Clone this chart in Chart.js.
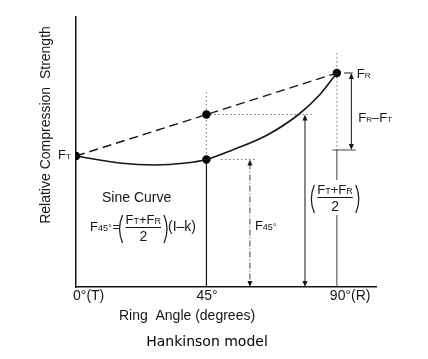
<!DOCTYPE html>
<html lang="en">
<head>
  <meta charset="UTF-8">
  <title>Hankinson model</title>
  <script src="https://cdn.jsdelivr.net/npm/chart.js@4.4.1/dist/chart.umd.min.js"></script>
  <style>
    html, body { margin: 0; padding: 0; background: #fff; }
    canvas { display: block; }
  </style>
</head>
<body>
  <canvas id="chart_hankinson" width="428" height="359"></canvas>
  <script>
    // ring angle (deg) / relative strength
    var curveAngles = [0, 15, 27, 38, 45, 54, 66, 77, 84, 90];
    var curveValues = [131, 124, 122, 124, 127.5, 137, 152, 173, 192, 214];
    var FT = 131, FR = 214, F45 = 127.5, MID = 172.5;
    var markerAngles = [0, 45, 45, 90];
    var markerValues = [FT, MID, F45, FR];
    var tickAngles = [0, 45, 90];
    var tickLabels = ['0°(T)', '45°', '90°(R)'];
    var arrowAngles = [60, 79, 95];   // F45 / (FT+FR)/2 / FR-FT
    var diffLow = 137;

    var INK = '#161616';
    var FONT = '"Liberation Sans", Arial, sans-serif';

    function pts(xs, ys) { return xs.map(function (a, i) { return { x: a, y: ys[i] }; }); }

    function arrowHead(ctx, x, y, dir) {
      ctx.beginPath();
      ctx.moveTo(x, y);
      ctx.lineTo(x - 2.5, y - dir * 6);
      ctx.lineTo(x + 2.5, y - dir * 6);
      ctx.closePath();
      ctx.fill();
    }
    function seg(ctx, x1, y1, x2, y2, dash, color, w) {
      ctx.save();
      ctx.setLineDash(dash || []);
      ctx.strokeStyle = color || INK;
      ctx.lineWidth = w || 1;
      ctx.beginPath(); ctx.moveTo(x1, y1); ctx.lineTo(x2, y2); ctx.stroke();
      ctx.restore();
    }
    // text with subscript pieces: [[text, size, dy]]
    function rich(ctx, x, y, parts) {
      parts.forEach(function (p) {
        ctx.font = p[1] + 'px ' + FONT;
        ctx.fillText(p[0], x, y + (p[2] || 0));
        x += ctx.measureText(p[0]).width;
      });
      return x;
    }
    function paren(ctx, x, y1, y2, side) {
      ctx.save();
      ctx.lineWidth = 1.2;
      ctx.strokeStyle = INK;
      ctx.beginPath();
      ctx.moveTo(x, y1);
      ctx.quadraticCurveTo(x - side * 6, (y1 + y2) / 2, x, y2);
      ctx.stroke();
      ctx.restore();
    }
    // ( FT+FR / 2 ) block, left edge x, fraction bar at cy
    function fraction(ctx, x, cy) {
      paren(ctx, x + 5, cy - 12, cy + 16, 1);
      var sx = x + 8;
      ctx.textBaseline = 'alphabetic';
      var ex = rich(ctx, sx, cy - 3, [['F', 13], ['T', 9], ['+F', 13], ['R', 9]]);
      seg(ctx, sx, cy + 0.5, ex, cy + 0.5, [], INK, 1.2);
      ctx.font = '14px ' + FONT;
      ctx.textAlign = 'center';
      ctx.fillText('2', (sx + ex) / 2, cy + 14);
      ctx.textAlign = 'left';
      paren(ctx, ex + 3, cy - 12, cy + 16, -1);
      return ex + 7;
    }

    var guides = {
      id: 'guides',
      beforeDatasetsDraw: function (chart) {
        var ctx = chart.ctx, sx = chart.scales.x, sy = chart.scales.y;
        var X = function (v) { return sx.getPixelForValue(v); };
        var Y = function (v) { return sy.getPixelForValue(v); };
        var dot = [1.5, 2.5], grey = '#777';
        // 45 deg
        seg(ctx, X(45), Y(195), X(45), Y(F45), dot, grey, 1);
        seg(ctx, X(45), Y(F45), X(45), Y(0), [], INK, 1.2);
        // 90 deg
        seg(ctx, X(90), Y(234), X(90), Y(diffLow), dot, grey, 1);
        seg(ctx, X(90), Y(diffLow), X(90), Y(107), [], '#444', 1);
        seg(ctx, X(90), Y(72), X(90), Y(0), [], '#444', 1);
        // horizontals
        seg(ctx, X(45), Y(MID), X(81.5), Y(MID), dot, grey, 1);
        seg(ctx, X(50), Y(F45), X(62), Y(F45), dot, grey, 1);
        seg(ctx, X(92.5), Y(FR), X(95.5), Y(FR), [], INK, 1);
        seg(ctx, X(88.5), Y(diffLow), X(96.5), Y(diffLow), [], '#444', 1);
        // arrows
        ctx.fillStyle = INK;
        var a1 = X(arrowAngles[0]);
        seg(ctx, a1, Y(F45) + 4, a1, Y(0) - 4, [6, 2, 1, 2], '#444', 1);
        arrowHead(ctx, a1, Y(F45), -1); arrowHead(ctx, a1, Y(0), 1);
        var a2 = X(arrowAngles[1]);
        seg(ctx, a2, Y(MID) + 4, a2, Y(0) - 4, [], INK, 1);
        arrowHead(ctx, a2, Y(MID), -1); arrowHead(ctx, a2, Y(0), 1);
        var a3 = X(arrowAngles[2]);
        seg(ctx, a3, Y(FR) + 4, a3, Y(diffLow) - 4, [], INK, 1);
        arrowHead(ctx, a3, Y(FR), -1); arrowHead(ctx, a3, Y(diffLow), 1);
      },
      afterDraw: function (chart) {
        var ctx = chart.ctx, sx = chart.scales.x, sy = chart.scales.y;
        var X = function (v) { return sx.getPixelForValue(v); };
        var Y = function (v) { return sy.getPixelForValue(v); };
        ctx.save();
        ctx.fillStyle = INK;
        ctx.textBaseline = 'middle';
        ctx.textAlign = 'left';

        // tick labels
        ctx.font = '14px ' + FONT;
        var offs = [-3, -10, -7];
        tickAngles.forEach(function (a, i) {
          ctx.fillText(tickLabels[i], X(a) + offs[i], Y(0) + 9);
        });
        // axis titles
        ctx.textAlign = 'center';
        ctx.fillText('Ring  Angle (degrees)', 187, 316);
        ctx.save();
        ctx.translate(46, 125);
        ctx.rotate(-Math.PI / 2);
        ctx.fillText('Relative Compression  Strength', 0, 0);
        ctx.restore();
        ctx.font = '14px "DejaVu Sans", sans-serif';
        ctx.fillStyle = '#000';
        ctx.fillText('Hankinson model', 207, 342);
        ctx.fillStyle = INK;
        ctx.textAlign = 'left';

        // point labels
        ctx.textBaseline = 'alphabetic';
        rich(ctx, X(0) - 18, Y(FT) + 3, [['F', 13], ['T', 8]]);
        rich(ctx, X(90) + 20, Y(FR) + 5, [['F', 13], ['R', 8]]);
        rich(ctx, X(95) + 7, Y(170) + 5, [['F', 13], ['R', 8], ['\u2013F', 13], ['T', 8]]);

        // (FT+FR)/2 on the right
        fraction(ctx, X(80.5), Y(90));

        // left block
        ctx.font = '14px ' + FONT;
        ctx.fillText('Sine Curve', 102, 202);
        var ex = rich(ctx, 90, 231, [['F', 13], ['45°', 9]]);
        ctx.font = '13px ' + FONT;
        ctx.fillText('=', ex + 1, 231);
        ex = fraction(ctx, ex + 6, 227);
        ctx.font = '14px ' + FONT;
        ctx.fillText('(I\u2013k)', ex, 231);

        // F45 label
        rich(ctx, X(arrowAngles[0]) + 5, 230, [['F', 13], ['45°', 9]]);
        ctx.restore();
      }
    };

    var ctx = document.getElementById('chart_hankinson').getContext('2d');
    var chart = new Chart(ctx, {
      type: 'scatter',
      data: {
        datasets: [
          {
            label: 'sine curve',
            data: pts(curveAngles, curveValues),
            showLine: true,
            borderColor: INK,
            borderWidth: 1.6,
            pointRadius: 0,
            cubicInterpolationMode: 'monotone'
          },
          {
            label: 'linear',
            data: pts([0, 90], [FT, FR]),
            showLine: true,
            borderColor: INK,
            borderWidth: 1.4,
            borderDash: [9, 5],
            pointRadius: 0
          },
          {
            label: 'points',
            data: pts(markerAngles, markerValues),
            showLine: false,
            pointRadius: 4.2,
            pointBackgroundColor: '#000',
            pointBorderWidth: 0
          }
        ]
      },
      options: {
        responsive: false,
        animation: false,
        layout: { padding: { left: 0, top: 17, right: 52, bottom: 0 } },
        plugins: { legend: { display: false }, tooltip: { enabled: false } },
        scales: {
          x: {
            type: 'linear', min: 0, max: 103.5,
            grid: { display: false },
            ticks: { display: false },
            border: { color: INK, width: 1.5 },
            afterFit: function (s) { s.height = 72; }
          },
          y: {
            min: 0, max: 270,
            grid: { display: false },
            ticks: { display: false },
            border: { color: INK, width: 1.5 },
            afterFit: function (s) { s.width = 76; }
          }
        }
      },
      plugins: [guides]
    });
  </script>
</body>
</html>
